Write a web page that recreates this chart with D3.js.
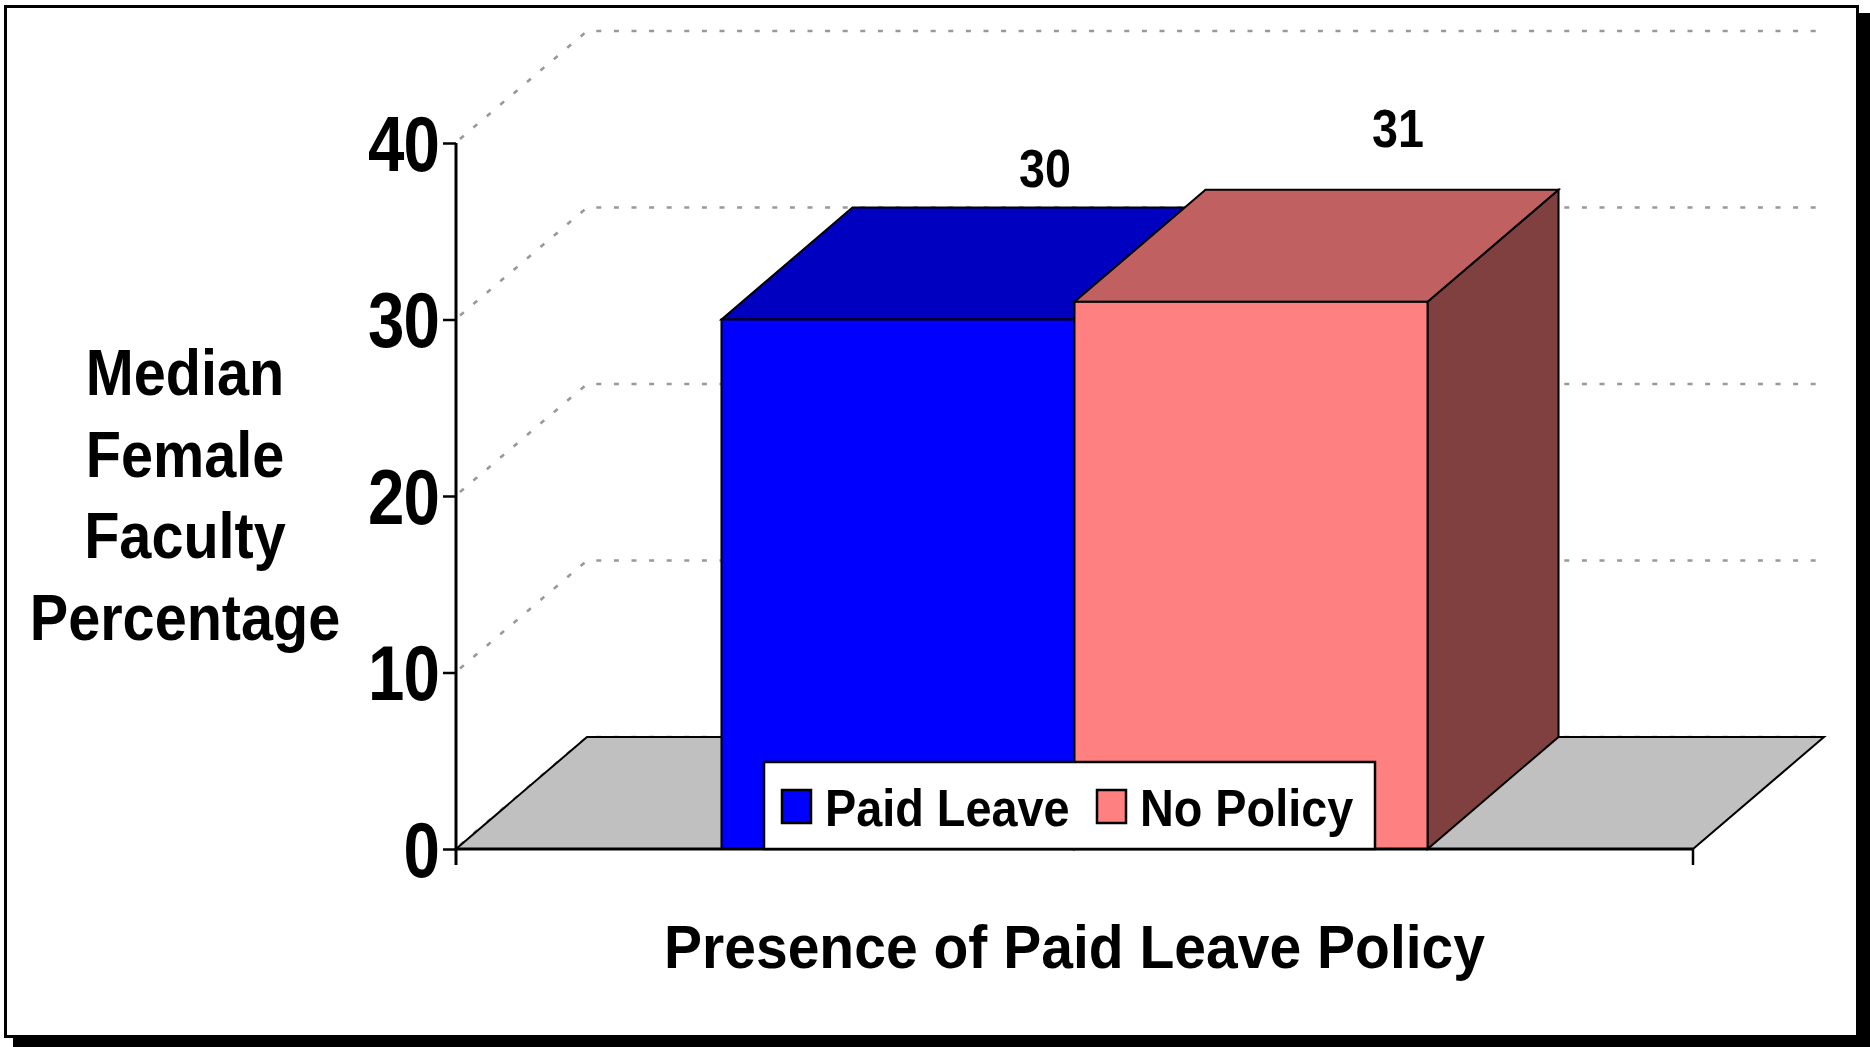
<!DOCTYPE html>
<html><head><meta charset="utf-8">
<script src="https://cdn.jsdelivr.net/npm/d3@7"></script>
<style>html,body{margin:0;padding:0;background:#fff;overflow:hidden}</style>
</head><body>
<svg id="c" width="1870" height="1047"></svg>
<script>
// ---- data ----
const categories = [""];
const series = ["Paid Leave", "No Policy"];
const values = [30, 31];
const yTicks = [0, 10, 20, 30, 40];
const yTickLabels = ["0", "10", "20", "30", "40"];
const yTitleLines = ["Median", "Female", "Faculty", "Percentage"];
const xTitle = "Presence of Paid Leave Policy";
const frontColors = ["#0000FF", "#FF8080"];
const topColors = ["#0000C0", "#C06060"];
const sideColors = ["#000080", "#804040"];

// ---- layout ----
const X0 = 456, X1 = 1693, Y0 = 849, Y1 = 143, DX = 131, DY = -112;
const FONT = "'Liberation Sans', Arial, Helvetica, sans-serif";
const labelLift = [21, 43];

const svg = d3.select("#c");
const y = d3.scaleLinear().domain([0, 40]).range([Y0, Y1]);
const xCat = d3.scaleBand().domain(categories).range([X0, X1]).paddingInner(0).paddingOuter(0.376);
const xSer = d3.scaleBand().domain(series).range([0, xCat.bandwidth()]);

// frame + shadow
svg.append("rect").attr("x", 13).attr("y", 13).attr("width", 1857).attr("height", 1034).attr("fill", "#000");
svg.append("rect").attr("x", 5.5).attr("y", 6.5).attr("width", 1852).attr("height", 1030)
  .attr("fill", "#fff").attr("stroke", "#000").attr("stroke-width", 3);

function txt(g, str, x, yy, size, sx, anchor) {
  return g.append("text")
    .attr("transform", `translate(${x},${yy}) scale(${sx},1)`)
    .attr("text-anchor", anchor || "middle")
    .attr("font-family", FONT).attr("font-weight", "bold")
    .attr("font-size", size).attr("fill", "#000").text(str);
}

// gridlines (back + left wall)
svg.append("g").selectAll("path").data(yTicks).join("path")
  .attr("d", v => `M${X0 + 4},${y(v) - 4} L${X0 + DX},${y(v) + DY} L${X1 + DX - 4},${y(v) + DY}`)
  .attr("fill", "none").attr("stroke", "#999").attr("stroke-width", 2.6)
  .attr("stroke-dasharray", "5,12.6");

// floor
svg.append("path")
  .attr("d", `M${X0},${Y0} L${X1},${Y0} L${X1 + DX},${Y0 + DY} L${X0 + DX},${Y0 + DY} Z`)
  .attr("fill", "#C0C0C0").attr("stroke", "#000").attr("stroke-width", 2).attr("stroke-linejoin", "miter");

// bars
const gb = svg.append("g").attr("stroke", "#000").attr("stroke-width", 2).attr("stroke-linejoin", "miter");
series.forEach((s, i) => {
  const x0 = xCat(categories[0]) + xSer(s), w = xSer.bandwidth(), yt = y(values[i]), yb = y(0);
  gb.append("path").attr("fill", sideColors[i])
    .attr("d", `M${x0 + w},${yt} L${x0 + w + DX},${yt + DY} L${x0 + w + DX},${yb + DY} L${x0 + w},${yb} Z`);
  gb.append("path").attr("fill", topColors[i])
    .attr("d", `M${x0},${yt} L${x0 + w},${yt} L${x0 + w + DX},${yt + DY} L${x0 + DX},${yt + DY} Z`);
  gb.append("rect").attr("fill", frontColors[i])
    .attr("x", x0).attr("y", yt).attr("width", w).attr("height", yb - yt);
});

// value labels
series.forEach((s, i) => {
  const x0 = xCat(categories[0]) + xSer(s), w = xSer.bandwidth();
  txt(svg, String(values[i]), x0 + w / 2 + DX + 16, y(values[i]) + DY - labelLift[i], 53, 0.88);
});

// y axis
const ya = svg.append("g").attr("transform", `translate(${X0},0)`)
  .call(d3.axisLeft(y).tickValues(yTicks).tickSize(13).tickSizeOuter(0).tickFormat((d, i) => yTickLabels[i]));
ya.select(".domain").remove();
ya.selectAll(".tick line").attr("stroke", "#000").attr("stroke-width", 2.5);
ya.selectAll(".tick text")
  .attr("x", null).attr("dy", null)
  .attr("transform", "translate(-17,27) scale(0.85,1)")
  .attr("text-anchor", "end").attr("letter-spacing", -1)
  .attr("font-family", FONT).attr("font-weight", "bold").attr("font-size", 77).attr("fill", "#000");
svg.append("line").attr("x1", X0).attr("x2", X0).attr("y1", Y1).attr("y2", Y0 + 16)
  .attr("stroke", "#000").attr("stroke-width", 3);

// x axis
svg.append("line").attr("x1", X0).attr("x2", X1).attr("y1", Y0).attr("y2", Y0)
  .attr("stroke", "#000").attr("stroke-width", 3);
svg.append("line").attr("x1", X1).attr("x2", X1).attr("y1", Y0).attr("y2", Y0 + 16)
  .attr("stroke", "#000").attr("stroke-width", 2.5);

// legend
const lg = svg.append("g");
lg.append("rect").attr("x", 764).attr("y", 762).attr("width", 611).attr("height", 87)
  .attr("fill", "#fff").attr("stroke", "#000").attr("stroke-width", 2.5);
const legX = [782, 1097];
series.forEach((s, i) => {
  lg.append("rect").attr("x", legX[i]).attr("y", 790).attr("width", 29).attr("height", 33)
    .attr("fill", frontColors[i]).attr("stroke", "#000").attr("stroke-width", 2.5);
  txt(lg, s, legX[i] + 43, 826, 52, 0.9, "start");
});

// titles
yTitleLines.forEach((t, i) => txt(svg, t, 185, 395 + i * 81.7, 64, 0.9));
txt(svg, xTitle, (X0 + X1) / 2, 968, 62, 0.92);
</script></body></html>
